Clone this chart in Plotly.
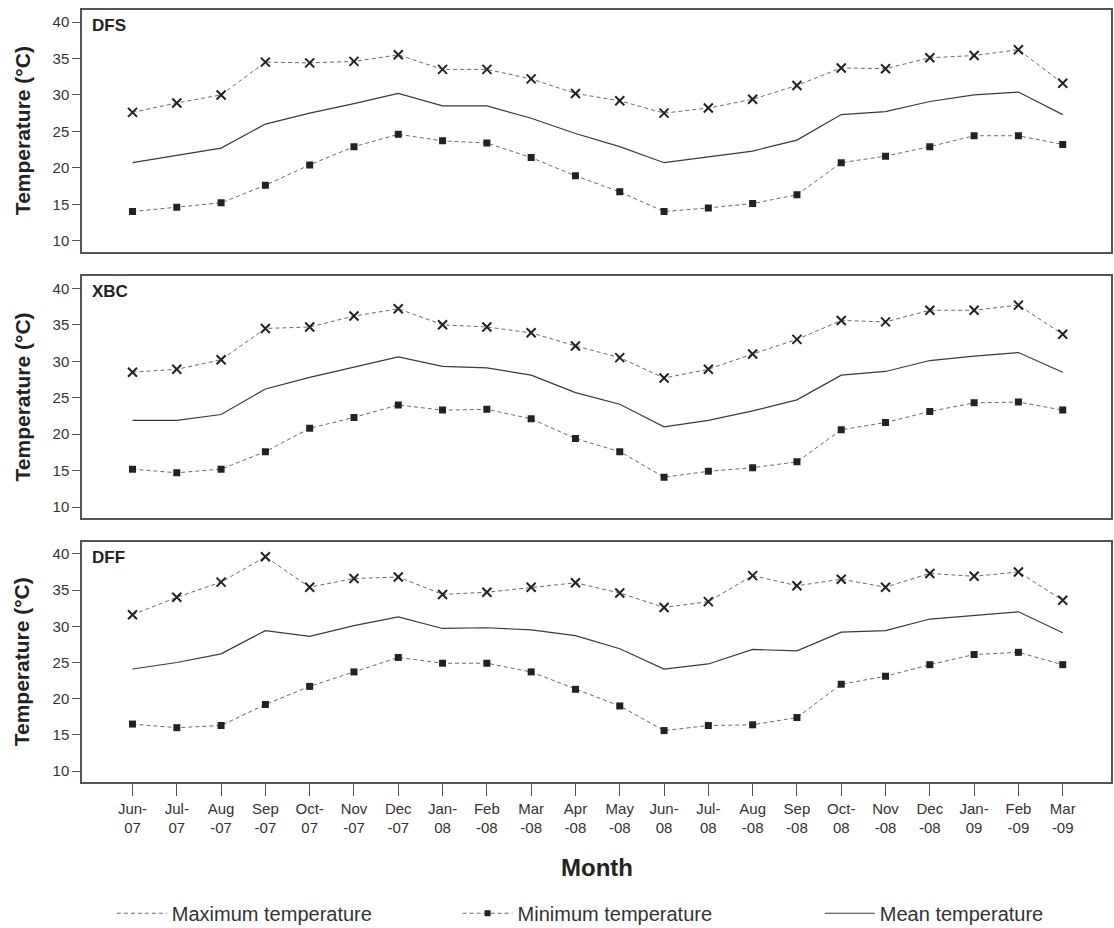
import plotly.graph_objects as go

# Months of the observation period (June 2007 - March 2009)
months = ["Jun-07", "Jul-07", "Aug-07", "Sep-07", "Oct-07", "Nov-07", "Dec-07",
          "Jan-08", "Feb-08", "Mar-08", "Apr-08", "May-08", "Jun-08", "Jul-08",
          "Aug-08", "Sep-08", "Oct-08", "Nov-08", "Dec-08", "Jan-09", "Feb-09", "Mar-09"]

tick_labels = ["Jun-<br>07", "Jul-<br>07", "Aug<br>-07", "Sep<br>-07", "Oct-<br>07",
               "Nov<br>-07", "Dec<br>-07", "Jan-<br>08", "Feb<br>-08", "Mar<br>-08",
               "Apr<br>-08", "May<br>-08", "Jun-<br>08", "Jul-<br>08", "Aug<br>-08",
               "Sep<br>-08", "Oct-<br>08", "Nov<br>-08", "Dec<br>-08", "Jan-<br>09",
               "Feb<br>-09", "Mar<br>-09"]

sites = ["DFS", "XBC", "DFF"]

# Monthly temperatures (°C) per site
dfs_max = [27.6, 28.9, 30.0, 34.5, 34.4, 34.6, 35.5, 33.5, 33.5, 32.2, 30.2, 29.2,
           27.5, 28.2, 29.4, 31.3, 33.7, 33.6, 35.1, 35.4, 36.2, 31.6]
dfs_min = [14.0, 14.6, 15.2, 17.6, 20.4, 22.9, 24.6, 23.7, 23.4, 21.4, 18.9, 16.7,
           14.0, 14.5, 15.1, 16.3, 20.7, 21.6, 22.9, 24.4, 24.4, 23.2]
dfs_mean = [20.7, 21.7, 22.7, 26.0, 27.5, 28.8, 30.2, 28.5, 28.5, 26.8, 24.7, 22.9,
            20.7, 21.5, 22.3, 23.8, 27.3, 27.7, 29.1, 30.0, 30.4, 27.3]

xbc_max = [28.5, 28.9, 30.2, 34.5, 34.7, 36.2, 37.2, 35.0, 34.7, 33.9, 32.1, 30.5,
           27.7, 28.9, 31.0, 33.0, 35.6, 35.4, 37.0, 37.0, 37.7, 33.7]
xbc_min = [15.2, 14.7, 15.2, 17.6, 20.8, 22.3, 24.0, 23.3, 23.4, 22.1, 19.4, 17.6,
           14.1, 14.9, 15.4, 16.2, 20.6, 21.6, 23.1, 24.3, 24.4, 23.3]
xbc_mean = [21.9, 21.9, 22.7, 26.2, 27.8, 29.2, 30.6, 29.3, 29.1, 28.1, 25.7, 24.1,
            21.0, 21.9, 23.2, 24.7, 28.1, 28.6, 30.1, 30.7, 31.2, 28.5]

dff_max = [31.6, 34.0, 36.1, 39.6, 35.4, 36.6, 36.8, 34.4, 34.7, 35.4, 36.0, 34.6,
           32.6, 33.4, 37.0, 35.6, 36.5, 35.4, 37.3, 36.9, 37.5, 33.6]
dff_min = [16.5, 16.0, 16.3, 19.2, 21.7, 23.7, 25.7, 24.9, 24.9, 23.7, 21.3, 19.0,
           15.6, 16.3, 16.4, 17.4, 22.0, 23.1, 24.7, 26.1, 26.4, 24.7]
dff_mean = [24.1, 25.0, 26.2, 29.4, 28.6, 30.1, 31.3, 29.7, 29.8, 29.5, 28.7, 26.9,
            24.1, 24.8, 26.8, 26.6, 29.2, 29.4, 31.0, 31.5, 32.0, 29.1]

series = {
    "DFS": (dfs_max, dfs_min, dfs_mean),
    "XBC": (xbc_max, xbc_min, xbc_mean),
    "DFF": (dff_max, dff_min, dff_mean),
}

FONT = "Liberation Sans, Arial, sans-serif"
INK = "#222222"
DASH_COLOR = "#6a6a6a"
FRAME = "#555555"

x_idx = list(range(len(months)))

fig = go.Figure()

for i, site in enumerate(sites, start=1):
    tmax, tmin, tmean = series[site]
    xa = "x" if i == 1 else f"x{i}"
    ya = "y" if i == 1 else f"y{i}"
    fig.add_trace(go.Scatter(
        x=x_idx, y=tmean, mode="lines", xaxis=xa, yaxis=ya,
        line=dict(color="#3a3a3a", width=1.2), showlegend=False,
        hovertext=months))
    fig.add_trace(go.Scatter(
        x=x_idx, y=tmax, mode="lines+markers", xaxis=xa, yaxis=ya,
        line=dict(color=DASH_COLOR, width=1, dash="4px,3px"),
        marker=dict(symbol="x-thin", size=9, line=dict(width=2, color=INK)),
        showlegend=False, hovertext=months))
    fig.add_trace(go.Scatter(
        x=x_idx, y=tmin, mode="lines+markers", xaxis=xa, yaxis=ya,
        line=dict(color=DASH_COLOR, width=1, dash="4px,3px"),
        marker=dict(symbol="square", size=7, color=INK),
        showlegend=False, hovertext=months))

# Legend entries, one legend box per entry
fig.add_trace(go.Scatter(
    x=[None], y=[None], mode="lines", name="Maximum temperature", legend="legend",
    line=dict(color=DASH_COLOR, width=1, dash="4px,3px")))
fig.add_trace(go.Scatter(
    x=[None], y=[None], mode="lines+markers", name="Minimum temperature",
    legend="legend2",
    line=dict(color=DASH_COLOR, width=1, dash="4px,3px"),
    marker=dict(symbol="square", size=6, color=INK)))
fig.add_trace(go.Scatter(
    x=[None], y=[None], mode="lines", name="Mean temperature", legend="legend3",
    line=dict(color="#3a3a3a", width=1.2)))

domains = [[0.687, 1.0], [0.342, 0.655], [0.0, 0.311]]

axis_common = dict(
    showline=True, mirror=True, linecolor=FRAME, linewidth=1.5,
    showgrid=False, zeroline=False,
)

legend_common = dict(
    orientation="h", y=-0.17, xanchor="left", yanchor="middle", itemwidth=50,
    font=dict(family=FONT, size=20, color="#333333"),
    bgcolor="rgba(0,0,0,0)",
)

layout = dict(
    width=1114, height=928,
    margin=dict(l=82, r=3, t=10, b=146, autoexpand=False),
    paper_bgcolor="white", plot_bgcolor="white",
    font=dict(family=FONT, color="#333333", size=14),
    showlegend=True,
    legend=dict(legend_common, x=0.029),
    legend2=dict(legend_common, x=0.365),
    legend3=dict(legend_common, x=0.717),
)

for i in range(1, 4):
    xkey = "xaxis" if i == 1 else f"xaxis{i}"
    ykey = "yaxis" if i == 1 else f"yaxis{i}"
    xa = dict(axis_common, domain=[0, 1], range=[-1.14, 22.09],
              anchor="y" if i == 1 else f"y{i}",
              tickvals=x_idx, ticktext=tick_labels)
    if i < 3:
        xa.update(showticklabels=False, ticks="")
        xa["matches"] = "x3"
    else:
        xa.update(ticks="outside", ticklen=12, tickwidth=1.2, tickcolor=FRAME,
                  tickfont=dict(family=FONT, size=15, color="#333333"))
    ya = dict(axis_common, domain=domains[i - 1], range=[8.5, 41.65],
              anchor="x" if i == 1 else f"x{i}",
              tickvals=[10, 15, 20, 25, 30, 35, 40],
              ticks="outside", ticklen=8, tickwidth=1.2, tickcolor=FRAME,
              tickfont=dict(family=FONT, size=15, color="#333333"))
    layout[xkey] = xa
    layout[ykey] = ya

fig.update_layout(**layout)

# Site labels and axis titles
for i, site in enumerate(sites, start=1):
    xr = "x domain" if i == 1 else f"x{i} domain"
    yr = "y domain" if i == 1 else f"y{i} domain"
    fig.add_annotation(text=f"<b>{site}</b>", xref=xr, yref=yr, x=0.008, y=0.985,
                       xanchor="left", yanchor="top", showarrow=False,
                       font=dict(family=FONT, size=17, color="#222222"))
    fig.add_annotation(text="<b>Temperature (°C)</b>", xref="paper", yref=yr,
                       x=-0.058, y=0.5, xanchor="center", yanchor="middle",
                       textangle=-90, showarrow=False,
                       font=dict(family=FONT, size=21, color="#222222"))

fig.add_annotation(text="<b>Month</b>", xref="paper", yref="paper",
                   x=0.5, y=-0.111, xanchor="center", yanchor="middle",
                   showarrow=False, font=dict(family=FONT, size=24, color="#222222"))

fig.write_html("out.html")
